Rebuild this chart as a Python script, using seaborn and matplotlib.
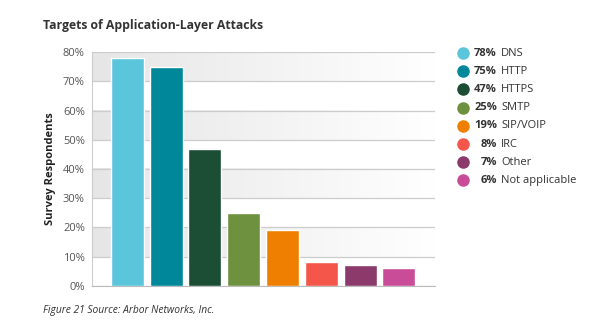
import numpy as np
import pandas as pd
import matplotlib
matplotlib.use("Agg")
import matplotlib.pyplot as plt
import seaborn as sns
from matplotlib.lines import Line2D
from matplotlib.colors import LinearSegmentedColormap

categories = ["DNS", "HTTP", "HTTPS", "SMTP", "SIP/VOIP", "IRC", "Other", "Not applicable"]
values = [78, 75, 47, 25, 19, 8, 7, 6]
colors = ["#5BC5DC", "#00889A", "#1C4D35", "#6E9140", "#EE7F00", "#F5564A", "#8B3A6B", "#C84C98"]
yticks = [0, 10, 20, 30, 40, 50, 60, 70, 80]
title = "Targets of Application-Layer Attacks"
ylabel = "Survey Respondents"
caption = "Figure 21 Source: Arbor Networks, Inc."

sns.set_style("white")
plt.rcParams['font.family'] = ['Open Sans', 'DejaVu Sans']

df = pd.DataFrame({"cat": categories, "val": values})

fig = plt.figure(figsize=(6, 3.32), dpi=100)
ax = fig.add_axes([0.153, 0.139, 0.572, 0.704])

# gradient bands
cmap = LinearSegmentedColormap.from_list("band", ["#e6e6e6", "#ffffff"])
grad = np.linspace(0, 1, 256).reshape(1, -1)
xl = (-0.915, 7.93)
for lo in [10, 30, 50, 70]:
    ax.imshow(grad, cmap=cmap, aspect="auto", extent=(xl[0], xl[1], lo, lo + 10),
              zorder=0, interpolation="bicubic")

sns.barplot(data=df, x="cat", y="val", hue="cat", palette=colors, width=0.85,
            legend=False, ax=ax, zorder=3, saturation=1)

ax.set_xlim(*xl)
ax.set_ylim(0, 80)
ax.set_yticks(yticks)
ax.set_yticklabels([f"{t}%" for t in yticks], color="#555555", fontsize=8)
ax.set_xticks([])
ax.set_xlabel("")
for t in yticks:
    ax.axhline(t, color="#cccccc", lw=0.9, zorder=1)
ax.set_ylabel(ylabel, fontsize=8, fontweight="bold", color="#222222", labelpad=5)
ax.tick_params(axis="y", length=0, pad=5)
for s in ["top", "right"]:
    ax.spines[s].set_visible(False)
ax.spines["left"].set_color("#cccccc")
ax.spines["bottom"].set_color("#bbbbbb")

fig.text(43 / 600, 1 - 25 / 332, title, fontsize=8.8, fontweight="bold", color="#333333",
         va="center", ha="left")
fig.text(43 / 600, 1 - 310 / 332, caption, fontsize=7.4, style="italic", color="#333333",
         va="center", ha="left")

# legend
y0 = 53
dy = 18.2
for i, (c, v, col) in enumerate(zip(categories, values, colors)):
    y = 1 - (y0 + i * dy) / 332
    fig.add_artist(Line2D([463 / 600], [y], marker="o", markersize=8, color=col,
                          linestyle="none", transform=fig.transFigure))
    fig.text(497 / 600, y, f"{v}%", fontsize=8, fontweight="bold", color="#333333",
             ha="right", va="center")
    fig.text(501 / 600, y, c, fontsize=8, color="#333333", ha="left", va="center")

fig.savefig("out.png", dpi=100, facecolor="white")
